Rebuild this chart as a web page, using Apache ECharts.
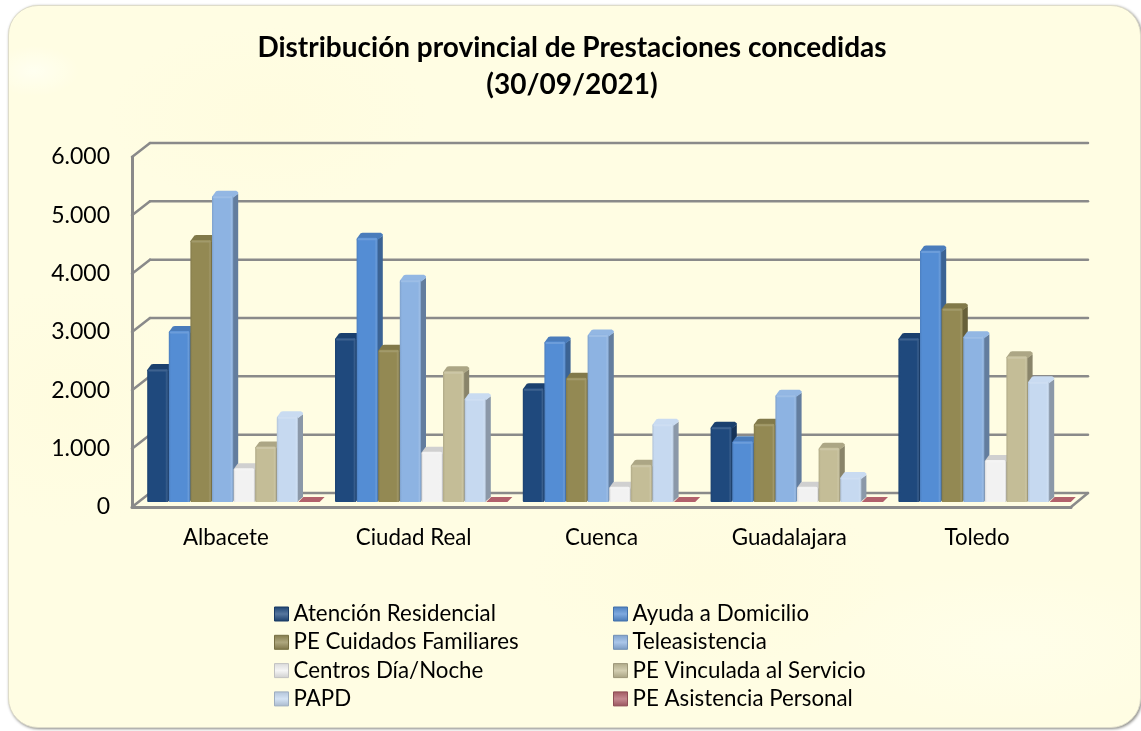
<!DOCTYPE html>
<html>
<head>
<meta charset="utf-8">
<title>Prestaciones concedidas</title>
<script src="https://cdn.jsdelivr.net/npm/echarts@6/dist/echarts.min.js"></script>
<style>
  html, body { margin: 0; width: 1141px; height: 731px; background: #fff; overflow: hidden; }
  #panel {
    position: absolute; left: 8px; top: 5px; width: 1133px; height: 723px;
    box-sizing: border-box; border: 1px solid #dedcca; border-radius: 30px;
    box-shadow: 1px 1px 3px #8a8a86;
    background:
      radial-gradient(ellipse 45px 25px at 25px 65px, #fffff0, transparent),
      radial-gradient(ellipse 160px 90px at 260px 110px, #fffcdf, transparent),
      radial-gradient(ellipse 180px 90px at 700px 570px, #fffcdf, transparent),
      radial-gradient(ellipse 140px 120px at 60px 400px, #fffcdf, transparent),
      radial-gradient(ellipse 200px 80px at 1000px 640px, #fffee9, transparent),
      #fffde3;
  }
  #chart { position: absolute; left: 0; top: 0; width: 1141px; height: 731px; }
</style>
</head>
<body>
<div id="panel"></div>
<div id="chart"></div>
<script>
  const categories = ['Albacete', 'Ciudad Real', 'Cuenca', 'Guadalajara', 'Toledo'];
  const yTicks = [0, 1000, 2000, 3000, 4000, 5000, 6000];

  const atencionResidencial = [2280, 2810, 1950, 1290, 2810];
  const ayudaDomicilio = [2930, 4530, 2750, 1040, 4310];
  const cuidadosFamiliares = [4490, 2610, 2130, 1340, 3320];
  const teleasistencia = [5250, 3810, 2870, 1840, 2840];
  const centrosDiaNoche = [580, 860, 260, 260, 720];
  const vinculadaServicio = [950, 2240, 640, 930, 2500];
  const papd = [1470, 1780, 1340, 430, 2070];
  const asistenciaPersonal = [20, 20, 20, 20, 20];

  const seriesNames = [
    'Atención Residencial', 'Ayuda a Domicilio', 'PE Cuidados Familiares', 'Teleasistencia',
    'Centros Día/Noche', 'PE Vinculada al Servicio', 'PAPD', 'PE Asistencia Personal'
  ];
  const seriesValues = [
    atencionResidencial, ayudaDomicilio, cuidadosFamiliares, teleasistencia,
    centrosDiaNoche, vinculadaServicio, papd, asistenciaPersonal
  ];
  const seriesColors = ['#1f497d', '#548dd4', '#938953', '#8db3e2', '#f2f2f2', '#c4bd97', '#c6d9f0', '#b2616b'];

  const FONT = 'Lato';
  const WALL = '#8a8a8a';
  const BAR_W = 21.6;

  // mezcla un color hex con blanco (t>0) o negro (t<0)
  function shade(hex, t) {
    const n = parseInt(hex.slice(1), 16);
    const to = t > 0 ? 255 : 0, k = Math.abs(t);
    const c = [n >> 16, (n >> 8) & 255, n & 255].map(v => Math.round(v + (to - v) * k));
    return 'rgb(' + c.join(',') + ')';
  }

  function faceGradient(color) {
    return new echarts.graphic.LinearGradient(0, 0, 1, 0, [
      { offset: 0, color: shade(color, -0.1) },
      { offset: 0.1, color: color },
      { offset: 0.85, color: color },
      { offset: 0.93, color: shade(color, 0.12) },
      { offset: 1, color: shade(color, -0.12) }
    ]);
  }

  function legendIcon(color) {
    return new echarts.graphic.LinearGradient(0, 0, 0, 1, [
      { offset: 0, color: shade(color, -0.1) },
      { offset: 0.5, color: shade(color, 0.25) },
      { offset: 1, color: shade(color, -0.15) }
    ]);
  }

  // pared de fondo y suelo con el desplazamiento de la perspectiva
  function renderWall(params, api) {
    const grid = params.coordSys;
    const y = api.coord([0, api.value(1)])[1];
    const children = [];
    const line = (x1, y1, x2, y2) => children.push({
      type: 'line',
      shape: { x1, y1, x2, y2 },
      style: { stroke: WALL, lineWidth: 2.5, lineCap: 'round' }
    });
    line(grid.x, y, grid.x + 18, y - 14);
    line(grid.x + 18, y - 14, grid.x + grid.width + 17, y - 14);
    if (api.value(1) === 0) {
      line(grid.x + grid.width, y, grid.x + grid.width + 17, y - 14);
    }
    return { type: 'group', children };
  }

  function renderBar(seriesIndex, params, api) {
    const color = seriesColors[seriesIndex];
    const base = api.coord([api.value(0), 0]);
    const top = api.coord([api.value(0), api.value(1)])[1] - 5;
    const bottom = base[1] - 5;
    const left = base[0] - 4 * BAR_W + seriesIndex * BAR_W + 7.7;
    const right = left + BAR_W - 0.4;
    const dx = 5, dy = -5;

    if (seriesIndex === 7) {
      return {
        type: 'polygon',
        shape: { points: [[left, bottom], [right, bottom], [right + dx, bottom + dy], [left + dx, bottom + dy]] },
        style: { fill: color }
      };
    }
    const capShade = color === '#f2f2f2' ? -0.14 : (seriesIndex === 3 || seriesIndex === 6 ? 0.05 : -0.12);
    return {
      type: 'group',
      children: [
        {
          type: 'polygon',
          shape: { points: [[right - 1, top + 2], [right + dx, top + dy + 3], [right + dx, bottom + dy], [right - 1, bottom]] },
          style: { fill: shade(color, -0.3) }
        },
        {
          type: 'polygon',
          shape: {
            points: [
              [left, top + 1], [left + dx - 1, top + dy + 0.5], [left + dx + 1, top + dy],
              [right + dx - 2, top + dy], [right + dx, top + dy + 1.5], [right + dx, top + dy + 3],
              [right, top + 2], [left, top + 2]
            ]
          },
          style: { fill: shade(color, capShade) }
        },
        {
          type: 'rect',
          shape: { x: left, y: top, width: right - left, height: bottom - top, r: [2.5, 2.5, 1, 1] },
          style: { fill: faceGradient(color) }
        },
        {
          type: 'rect',
          shape: { x: left + 1, y: top + 0.5, width: right - left - 2, height: 2, r: 1 },
          style: { fill: shade(color, 0.14) }
        }
      ]
    };
  }

  const barSeries = seriesNames.map((name, i) => ({
    name,
    type: 'custom',
    z: 3,
    clip: false,
    itemStyle: { color: seriesColors[i] },
    encode: { x: 0, y: 1 },
    data: seriesValues[i].map((v, c) => [c, v]),
    renderItem: (params, api) => renderBar(i, params, api)
  }));

  function legendFor(names, left) {
    return {
      orient: 'vertical',
      left,
      top: 602,
      padding: 0,
      itemWidth: 14,
      itemHeight: 14,
      itemGap: 4.3,
      selectedMode: false,
      icon: 'rect',
      textStyle: { fontFamily: FONT, fontSize: 22.3, color: '#000', lineHeight: 24 },
      data: names.map(name => {
        const i = seriesNames.indexOf(name);
        return { name, itemStyle: { color: legendIcon(seriesColors[i]), borderColor: shade(seriesColors[i], -0.2), borderWidth: 1 } };
      })
    };
  }

  const chart = echarts.init(document.getElementById('chart'));
  chart.setOption({
    animation: false,
    backgroundColor: 'transparent',
    title: {
      text: 'Distribución provincial de Prestaciones concedidas\n(30/09/2021)',
      left: 567,
      textAlign: 'center',
      top: 24,
      textStyle: { fontFamily: FONT, fontSize: 28, fontWeight: 'bold', color: '#000', lineHeight: 37 }
    },
    legend: [
      legendFor([seriesNames[0], seriesNames[2], seriesNames[4], seriesNames[6]], 274),
      legendFor([seriesNames[1], seriesNames[3], seriesNames[5], seriesNames[7]], 613)
    ],
    grid: { left: 132, right: 70, top: 157, bottom: 224, containLabel: false },
    xAxis: {
      type: 'category',
      data: categories,
      axisTick: { show: false },
      axisLine: { lineStyle: { color: WALL, width: 3 } },
      axisLabel: { margin: 20, fontFamily: FONT, fontSize: 22.3, color: '#000' }
    },
    yAxis: {
      type: 'value',
      min: 0,
      max: 6000,
      interval: 1000,
      splitLine: { show: false },
      axisTick: { show: false },
      axisLine: { show: true, lineStyle: { color: WALL, width: 3 } },
      axisLabel: {
        margin: 22,
        fontFamily: FONT,
        fontSize: 23,
        color: '#000',
        formatter: v => (v === 0 ? '0' : (v / 1000) + '.000')
      }
    },
    series: [
      {
        type: 'custom',
        z: 1,
        clip: false,
        silent: true,
        encode: { x: 0, y: 1 },
        data: yTicks.map(t => [0, t]),
        renderItem: renderWall
      }
    ].concat(barSeries)
  });
</script>
</body>
</html>
